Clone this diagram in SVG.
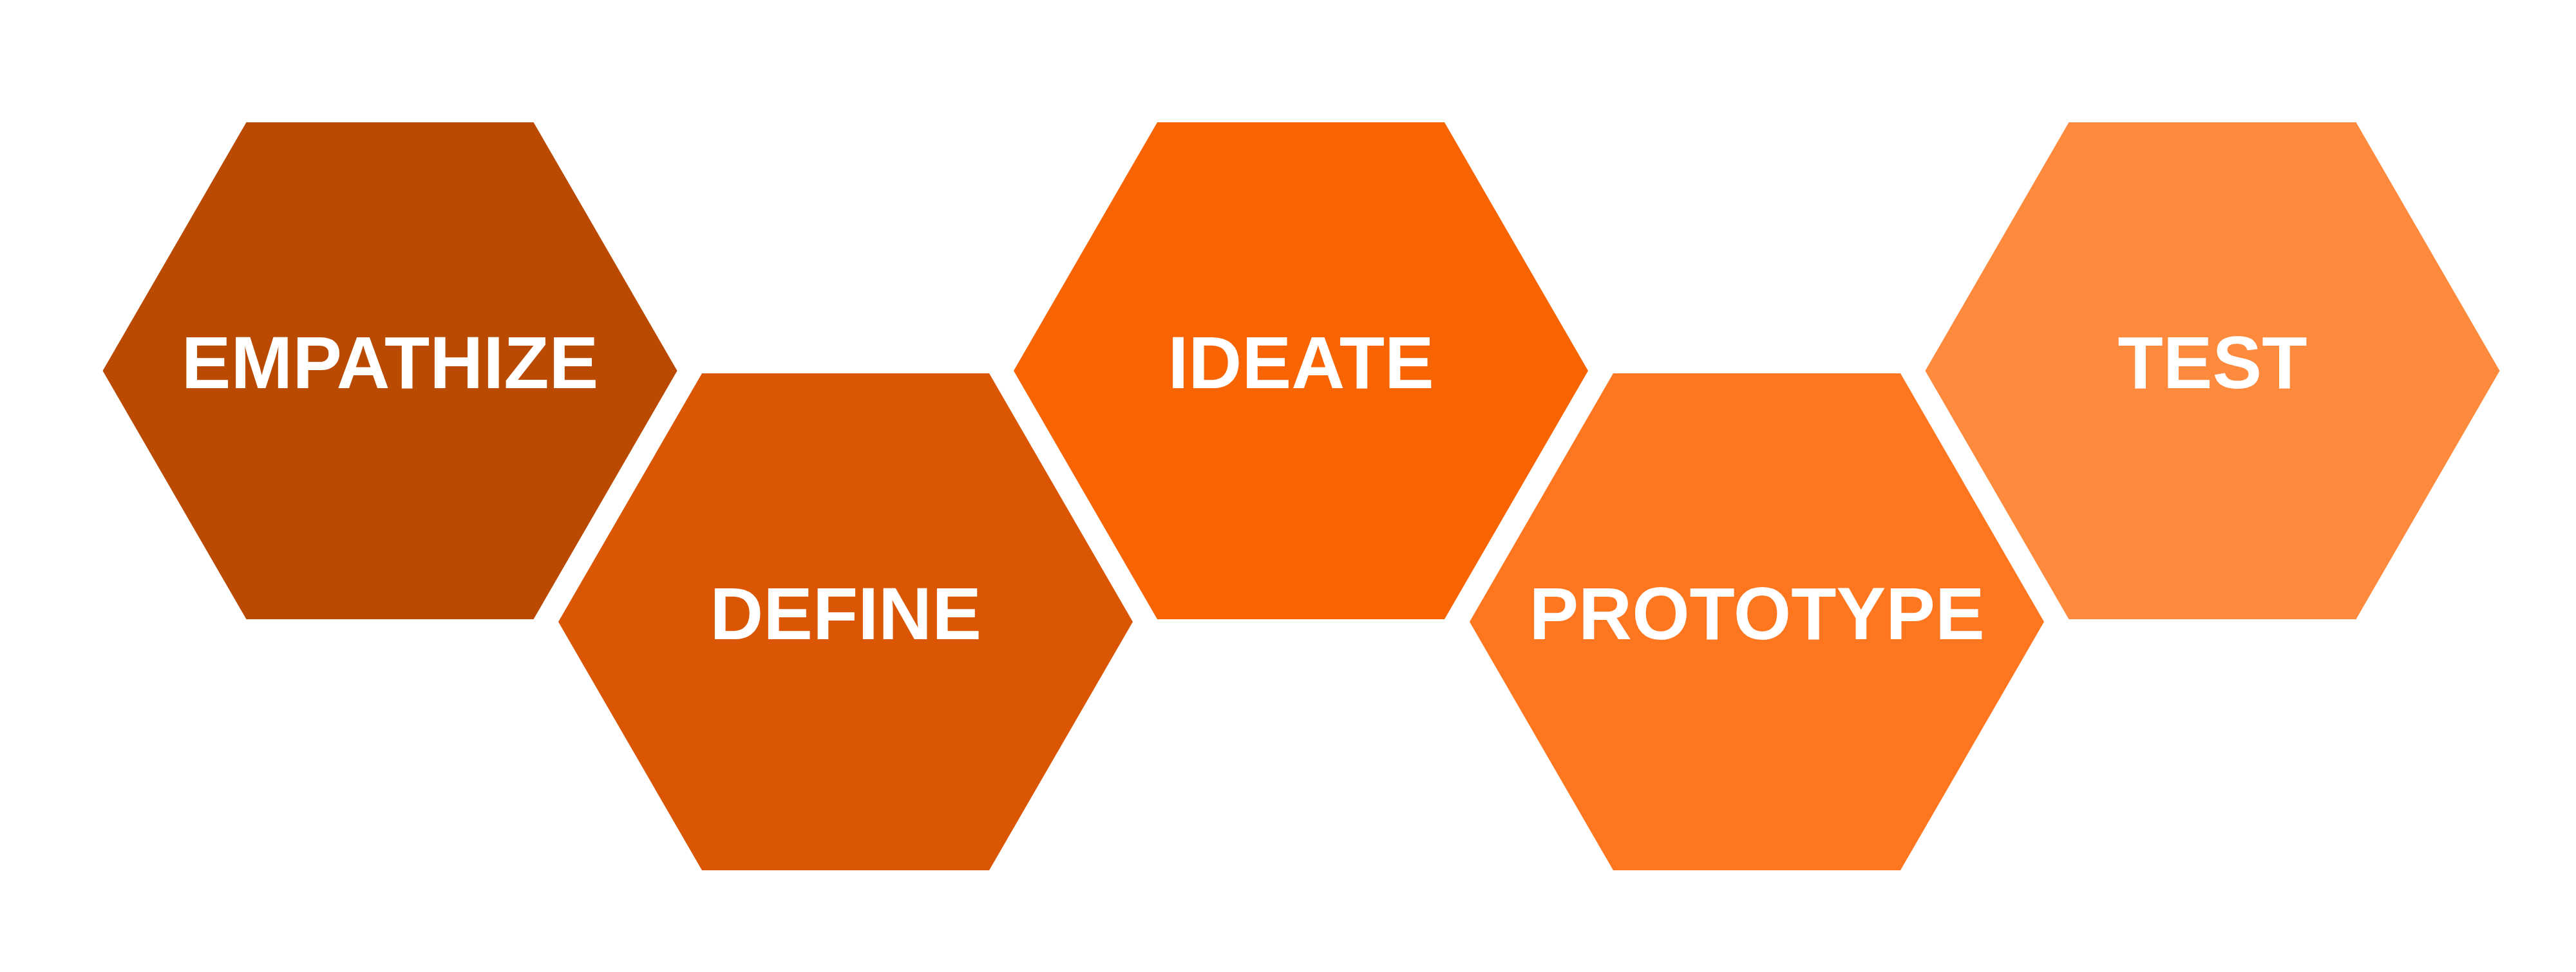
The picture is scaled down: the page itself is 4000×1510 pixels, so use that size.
<svg xmlns="http://www.w3.org/2000/svg" width="4000" height="1510" viewBox="0 0 4000 1510">
<style>
.lbl{font-family:"Liberation Sans",Arial,sans-serif;font-weight:bold;font-size:115px;fill:#ffffff;text-anchor:middle}
</style>
<defs>
<polygon id="hex" points="-446,0 -223,-386 223,-386 446,0 223,386 -223,386"/>
</defs>
<rect width="4000" height="1510" fill="#ffffff"/>
<g id="connectors"></g>
<g id="empathize" transform="translate(605.5,576)">
<use href="#hex" fill="#BA4A00"/>
<text class="lbl" x="0" y="27">EMPATHIZE</text>
</g>
<g id="define" transform="translate(1313,966)">
<use href="#hex" fill="#DA5602"/>
<text class="lbl" x="0" y="27">DEFINE</text>
</g>
<g id="ideate" transform="translate(2020,576)">
<use href="#hex" fill="#F96402"/>
<text class="lbl" x="0" y="27">IDEATE</text>
</g>
<g id="prototype" transform="translate(2728,966)">
<use href="#hex" fill="#FE761F"/>
<text class="lbl" x="0" y="27">PROTOTYPE</text>
</g>
<g id="test" transform="translate(3435.5,576)">
<use href="#hex" fill="#FE8A3E"/>
<text class="lbl" x="0" y="27">TEST</text>
</g>
</svg>
